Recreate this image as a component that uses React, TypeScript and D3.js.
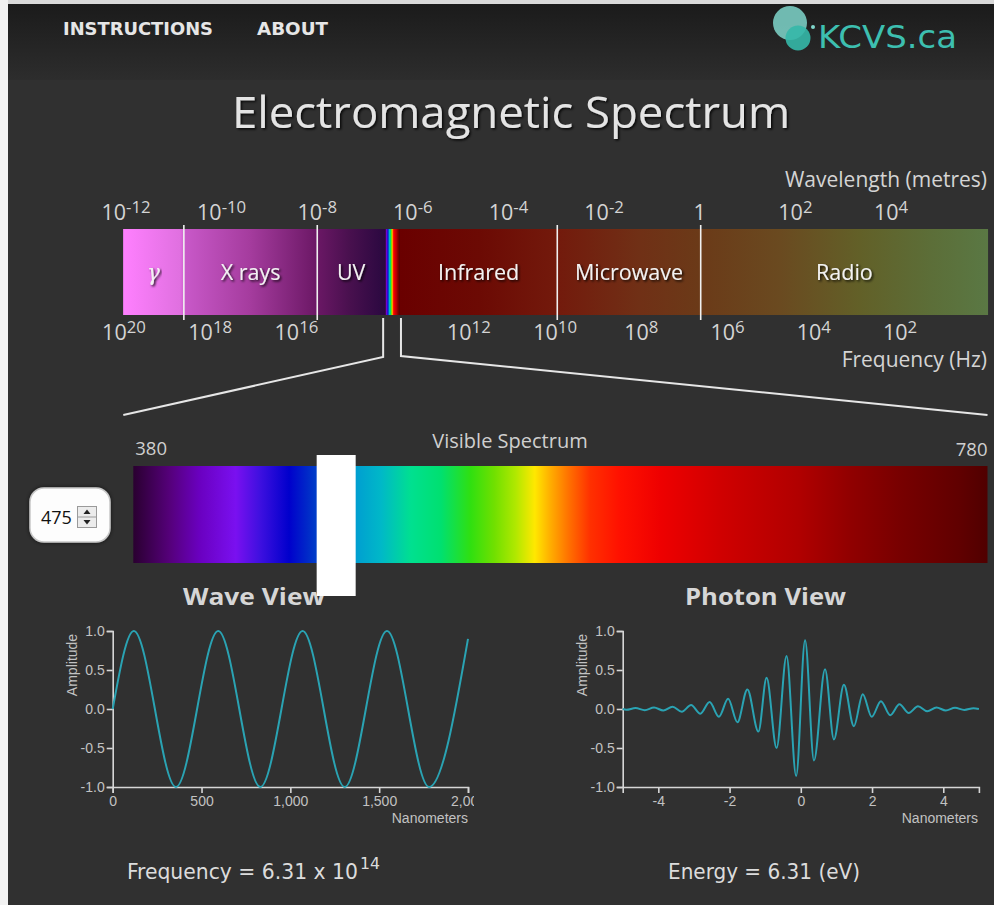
import React, { useEffect, useRef } from "react";
import * as d3 from "d3";

// ---------------- data ----------------
const NAV_ITEMS = ["INSTRUCTIONS", "ABOUT"];
const LOGO_TEXT = "KCVS.ca";
const TITLE = "Electromagnetic Spectrum";
const WAVELENGTH_TICK_EXPONENTS = [-12, -10, -8, -6, -4, -2, 0, 2, 4];
const FREQUENCY_TICK_EXPONENTS = [20, 18, 16, 12, 10, 8, 6, 4, 2];
const BAND_NAMES = ["γ", "X rays", "UV", "", "Infrared", "Microwave", "Radio"];
const BAND_EDGES_LOG_M = [-12.06, -10.79, -8.0, -6.58, -6.27, -2.98, 0.02, 6.03];
const VISIBLE_RANGE_NM = [380, 780];
const SELECTED_WAVELENGTH_NM = 475;
const FREQUENCY_MANTISSA = "6.31";
const FREQUENCY_EXPONENT = "14";
const ENERGY_EV = "6.31";

const WAVE_X_NM = [0, 119, 356, 594, 831, 1069, 1306, 1544, 1781, 2000];
const WAVE_AMPLITUDE = [0, 1, -1, 1, -1, 1, -1, 1, -1, 0.9];
const WAVE_X_TICKS = [0, 500, 1000, 1500, 2000];

const PHOTON_X_NM = [
  -5, -4.9, -4.64, -4.38, -4.12, -3.86, -3.6, -3.34, -3.08, -2.82, -2.56, -2.3, -2.04,
  -1.78, -1.5, -1.19, -0.96, -0.68, -0.4, -0.13, 0.12, 0.37, 0.68, 0.93, 1.21, 1.49,
  1.74, 1.99, 2.25, 2.51, 2.77, 3.03, 3.29, 3.55, 3.81, 4.07, 4.33, 4.59, 4.85, 5,
];
const PHOTON_AMPLITUDE = [
  0, -0.01, 0.012, -0.015, 0.02, -0.02, 0.03, -0.035, 0.05, -0.06, 0.09, -0.1, 0.13,
  -0.17, 0.25, -0.29, 0.4, -0.5, 0.68, -0.86, 0.88, -0.66, 0.51, -0.39, 0.31, -0.22,
  0.19, -0.1, 0.1, -0.08, 0.06, -0.05, 0.035, -0.03, 0.02, -0.02, 0.015, -0.012, 0.01, 0,
];
const PHOTON_X_TICKS = [-4, -2, 0, 2, 4];
const AMPLITUDE_TICKS = [-1, -0.5, 0, 0.5, 1];

// ---------------- styles (colour ramps) ----------------
const HIGH_ENERGY_STOPS: [number, string][] = [
  [-12.06, "#ff80ff"], [-10.87, "#e070e0"], [-10.75, "#c858c8"], [-9.41, "#a53c9e"],
  [-8.03, "#6c1866"], [-7.31, "#48104e"], [-6.58, "#2a0840"],
];
const LOW_ENERGY_STOPS: [number, string][] = [
  [-6.27, "#6a0000"], [-4.6, "#6c0a04"], [-2.98, "#731a0c"], [-1.25, "#703016"],
  [0.0, "#6b3a18"], [1.68, "#6a4a20"], [3.35, "#626028"], [4.82, "#5c6e38"], [6.03, "#5a7844"],
];
const VISIBLE_STOPS: [number, string][] = [
  [380, "#2a0030"], [397, "#55007a"], [411, "#6a00c0"], [428, "#7a10f0"], [439, "#4010e0"],
  [453, "#0000cc"], [463, "#0030c8"], [485, "#00a0d0"], [496, "#00b8c8"], [510, "#00e090"],
  [524, "#00e070"], [538, "#30e010"], [549, "#70e000"], [559, "#b0e800"], [568, "#ffe800"],
  [575, "#ffb000"], [584, "#ff7000"], [594, "#ff3000"], [608, "#ff1000"], [627, "#ee0000"],
  [655, "#d00000"], [692, "#b00000"], [716, "#900000"], [739, "#780000"], [767, "#600000"],
  [780, "#500000"],
];

const LABEL_FONT = "'Open Sans', 'Noto Sans', sans-serif";
const AXIS_FONT = "'Liberation Sans', Arial, sans-serif";
const NARROW_FONT = "'Liberation Sans Narrow', 'DejaVu Sans Condensed', 'Liberation Sans', sans-serif";
const LINE_COLOR = "#2aa3b3";

// ---------------- scales ----------------
const wlScale = d3.scaleLinear().domain([-12, 4]).range([126, 891]);
const freqScale = d3.scaleLinear().domain([20, 2]).range([124, 900]);
const visScale = d3.scaleLinear().domain(VISIBLE_RANGE_NM).range([133.3, 987.5]);
const ampScale = d3.scaleLinear().domain([-1, 1]).range([787, 631]);
const waveX = d3.scaleLinear().domain([0, 2000]).range([112.7, 468]);
const photonX = d3.scaleLinear().domain([-5, 5]).range([622.7, 978.9]);

const BAR_TOP = 229;
const BAR_BOTTOM = 315;

const hyphen = (f: (n: number) => string) => (d: d3.NumberValue) => f(+d).replace("\u2212", "-");

function stopsFor(stops: [number, string][], scale: (v: number) => number, x0: number, x1: number) {
  return stops.map(([v, c], i) => (
    <stop key={i} offset={`${((scale(v) - x0) / (x1 - x0)) * 100}%`} stopColor={c} />
  ));
}

function PowerLabel({ x, y, exp, size }: { x: number; y: number; exp: number; size: number }) {
  if (exp === 0) {
    return (
      <text x={x} y={y} textAnchor="middle" fontSize={size} fill="#d4d4d4" fontFamily={LABEL_FONT}>1</text>
    );
  }
  return (
    <text x={x} y={y} textAnchor="middle" fontSize={size} fill="#d4d4d4" fontFamily={LABEL_FONT}>
      10
      <tspan dy={-7} fontSize={size * 0.78}>{String(exp)}</tspan>
    </text>
  );
}

export default function App() {
  const waveXAxis = useRef<SVGGElement>(null);
  const waveYAxis = useRef<SVGGElement>(null);
  const photonXAxis = useRef<SVGGElement>(null);
  const photonYAxis = useRef<SVGGElement>(null);

  useEffect(() => {
    const styleAxis = (g: d3.Selection<SVGGElement, unknown, null, undefined>) => {
      g.selectAll("path, line").attr("stroke", "#d6d6d6").attr("stroke-width", 1.6);
      g.selectAll("text")
        .attr("fill", "#c2c2c2")
        .attr("font-size", 14)
        .attr("font-family", AXIS_FONT);
    };
    const yAxis = d3
      .axisLeft(ampScale)
      .tickValues(AMPLITUDE_TICKS)
      .tickFormat(hyphen(d3.format(".1f")))
      .tickSize(6)
      .tickPadding(2);
    [waveXAxis, waveYAxis, photonXAxis, photonYAxis].forEach((r) => d3.select(r.current!).selectAll("*").remove());
    d3.select(waveXAxis.current!)
      .call(d3.axisBottom(waveX).tickValues(WAVE_X_TICKS).tickFormat(hyphen(d3.format(","))).tickSize(6).tickPadding(3))
      .call(styleAxis);
    d3.select(waveYAxis.current!).call(yAxis).call(styleAxis);
    d3.select(photonXAxis.current!)
      .call(d3.axisBottom(photonX).tickValues(PHOTON_X_TICKS).tickFormat(hyphen(d3.format("d"))).tickSize(6).tickPadding(3))
      .call(styleAxis);
    d3.select(photonYAxis.current!).call(yAxis).call(styleAxis);
  }, []);

  const wavePath = d3
    .line<number>()
    .x((_, i) => waveX(WAVE_X_NM[i]))
    .y((d) => ampScale(d))
    .curve(d3.curveMonotoneX)(WAVE_AMPLITUDE) || "";
  const photonPath = d3
    .line<number>()
    .x((_, i) => photonX(PHOTON_X_NM[i]))
    .y((d) => ampScale(d))
    .curve(d3.curveMonotoneX)(PHOTON_AMPLITUDE) || "";

  const barLeft = wlScale(BAND_EDGES_LOG_M[0]);
  const barRight = wlScale(BAND_EDGES_LOG_M[7]);
  const visLeft = wlScale(BAND_EDGES_LOG_M[3]);
  const visRight = wlScale(BAND_EDGES_LOG_M[4]);
  const visBarLeft = visScale(VISIBLE_RANGE_NM[0]);
  const visBarRight = visScale(VISIBLE_RANGE_NM[1]);
  const sliderX = visScale(SELECTED_WAVELENGTH_NM);
  const miniVis = d3.scaleLinear().domain(VISIBLE_RANGE_NM).range([visLeft, visRight]);

  return (
    <>
      <style>{"body{margin:0;background:#fff;} #root{line-height:0}"}</style>
      <svg width={994} height={905} style={{ display: "block" }}>
        <defs>
          <linearGradient id="hdr" x1="0" y1="0" x2="0" y2="1">
            <stop offset="0%" stopColor="#1b1b1b" />
            <stop offset="100%" stopColor="#2d2d2d" />
          </linearGradient>
          <linearGradient id="highE" gradientUnits="userSpaceOnUse" x1={barLeft} x2={visLeft} y1={0} y2={0}>
            {stopsFor(HIGH_ENERGY_STOPS, wlScale, barLeft, visLeft)}
          </linearGradient>
          <linearGradient id="lowE" gradientUnits="userSpaceOnUse" x1={visRight} x2={barRight} y1={0} y2={0}>
            {stopsFor(LOW_ENERGY_STOPS, wlScale, visRight, barRight)}
          </linearGradient>
          <linearGradient id="visMini" gradientUnits="userSpaceOnUse" x1={visLeft} x2={visRight} y1={0} y2={0}>
            {stopsFor(VISIBLE_STOPS, miniVis, visLeft, visRight)}
          </linearGradient>
          <linearGradient id="visBig" gradientUnits="userSpaceOnUse" x1={visBarLeft} x2={visBarRight} y1={0} y2={0}>
            {stopsFor(VISIBLE_STOPS, visScale, visBarLeft, visBarRight)}
          </linearGradient>
          <filter id="tshadow" x="-10%" y="-30%" width="120%" height="160%">
            <feDropShadow dx="1.5" dy="1.5" stdDeviation="0.8" floodColor="#000" floodOpacity="0.85" />
          </filter>
          <filter id="boxshadow" x="-20%" y="-20%" width="140%" height="140%">
            <feDropShadow dx="0" dy="0" stdDeviation="2" floodColor="#000" floodOpacity="0.6" />
          </filter>
          <clipPath id="waveClip">
            <rect x={0} y={600} width={474} height={260} />
          </clipPath>
        </defs>

        {/* page frame & background */}
        <rect x={0} y={0} width={994} height={905} fill="#303030" />
        <rect x={0} y={4} width={994} height={76} fill="url(#hdr)" />
        <rect x={0} y={0} width={994} height={4} fill="#d9d9d9" />
        <rect x={0} y={0} width={8} height={905} fill="#f2f2f2" />

        {/* nav */}
        {NAV_ITEMS.map((t, i) => (
          <text
            key={t}
            x={i === 0 ? 63 : 257}
            y={35}
            fontFamily={NARROW_FONT}
            fontWeight="bold"
            fontSize={18}
            fill="#e6e6e6"
            textLength={i === 0 ? 150 : 71}
            lengthAdjust="spacingAndGlyphs"
          >
            {t}
          </text>
        ))}

        {/* logo */}
        <g>
          <circle cx={790} cy={23} r={17} fill="#7fd6cb" opacity={0.85} />
          <circle cx={798} cy={38} r={12.5} fill="#35b8a8" opacity={0.9} />
          <circle cx={813} cy={27} r={2} fill="#7fd6cb" />
          <text
            x={818}
            y={48}
            fontFamily={NARROW_FONT}
            fontSize={32}
            fill="#3dbfb0"
            textLength={139}
            lengthAdjust="spacingAndGlyphs"
          >
            {LOGO_TEXT}
          </text>
        </g>

        {/* title */}
        <text
          x={511}
          y={128}
          textAnchor="middle"
          fontFamily={LABEL_FONT}
          fontSize={44}
          fill="#e4e4e4"
          filter="url(#tshadow)"
          textLength={558}
          lengthAdjust="spacingAndGlyphs"
        >
          {TITLE}
        </text>

        {/* wavelength axis labels */}
        <text x={987} y={187} textAnchor="end" fontFamily={LABEL_FONT} fontSize={21} fill="#d4d4d4">
          Wavelength (metres)
        </text>
        {WAVELENGTH_TICK_EXPONENTS.map((e) => (
          <PowerLabel key={e} x={wlScale(e)} y={220} exp={e} size={21.5} />
        ))}

        {/* EM bar */}
        <rect x={barLeft} y={BAR_TOP} width={visLeft - barLeft} height={BAR_BOTTOM - BAR_TOP} fill="url(#highE)" />
        <rect x={visLeft} y={BAR_TOP} width={visRight - visLeft} height={BAR_BOTTOM - BAR_TOP} fill="url(#visMini)" />
        <rect x={visRight} y={BAR_TOP} width={barRight - visRight} height={BAR_BOTTOM - BAR_TOP} fill="url(#lowE)" />
        {[1, 2, 5, 6].map((i) => (
          <line
            key={i}
            x1={wlScale(BAND_EDGES_LOG_M[i])}
            x2={wlScale(BAND_EDGES_LOG_M[i])}
            y1={225}
            y2={320}
            stroke="#f0f0f0"
            strokeWidth={1.6}
          />
        ))}
        {BAND_NAMES.map((name, i) =>
          name ? (
            <text
              key={name}
              x={(wlScale(BAND_EDGES_LOG_M[i]) + wlScale(BAND_EDGES_LOG_M[i + 1])) / 2}
              y={280}
              textAnchor="middle"
              fontFamily={i === 0 ? "'DejaVu Serif', serif" : LABEL_FONT}
              fontStyle={i === 0 ? "italic" : "normal"}
              fontSize={21.5}
              fill="#f2f2f2"
              filter="url(#tshadow)"
            >
              {name}
            </text>
          ) : null
        )}

        {/* frequency labels */}
        {FREQUENCY_TICK_EXPONENTS.map((e) => (
          <PowerLabel key={e} x={freqScale(e)} y={340} exp={e} size={21.5} />
        ))}
        <text x={987} y={367} textAnchor="end" fontFamily={LABEL_FONT} fontSize={21} fill="#d4d4d4">
          Frequency (Hz)
        </text>

        {/* zoom lines */}
        <polyline
          points={`${visLeft - 2},${BAR_BOTTOM + 3} ${visLeft - 2},357 ${visBarLeft - 10},415`}
          fill="none"
          stroke="#e6e6e6"
          strokeWidth={2}
        />
        <polyline
          points={`${visRight + 1},${BAR_BOTTOM + 3} ${visRight + 1},356 ${visBarRight},415`}
          fill="none"
          stroke="#e6e6e6"
          strokeWidth={2}
        />

        {/* visible spectrum */}
        <text x={510} y={448} textAnchor="middle" fontFamily={LABEL_FONT} fontSize={20} fill="#cfcfcf">
          Visible Spectrum
        </text>
        <text x={visBarLeft + 2} y={455} fontFamily={LABEL_FONT} fontSize={18.5} fill="#cfcfcf">
          {VISIBLE_RANGE_NM[0]}
        </text>
        <text x={visBarRight} y={456} textAnchor="end" fontFamily={LABEL_FONT} fontSize={18.5} fill="#cfcfcf">
          {VISIBLE_RANGE_NM[1]}
        </text>
        <rect x={visBarLeft} y={466} width={visBarRight - visBarLeft} height={97} fill="url(#visBig)" />

        {/* wavelength input */}
        <rect x={30} y={488} width={80} height={54} rx={14} fill="#fdfdfd" stroke="#c8c8c8" strokeWidth={1.5} filter="url(#boxshadow)" />
        <text x={41} y={524} fontFamily={LABEL_FONT} fontSize={18} fill="#111">
          {SELECTED_WAVELENGTH_NM}
        </text>
        <rect x={77.5} y={506.5} width={19} height={21} fill="#ececec" stroke="#9a9a9a" strokeWidth={1} />
        <line x1={77.5} x2={96.5} y1={517} y2={517} stroke="#9a9a9a" />
        <path d="M87,509.5 L90.5,514 L83.5,514 Z" fill="#222" />
        <path d="M87,524.5 L90.5,520 L83.5,520 Z" fill="#222" />

        {/* view titles */}
        <text x={254} y={605} textAnchor="middle" fontFamily={LABEL_FONT} fontWeight="bold" fontSize={24} fill="#d6d6d6" textLength={142} lengthAdjust="spacingAndGlyphs">
          Wave View
        </text>
        <text x={765.5} y={605} textAnchor="middle" fontFamily={LABEL_FONT} fontWeight="bold" fontSize={24} fill="#d6d6d6" textLength={161} lengthAdjust="spacingAndGlyphs">
          Photon View
        </text>

        {/* slider */}
        <rect x={sliderX - 19.5} y={455} width={39} height={141} fill="#ffffff" />

        {/* wave view chart */}
        <g clipPath="url(#waveClip)">
          <g ref={waveXAxis} transform={`translate(0,${ampScale(-1)})`} />
          <g ref={waveYAxis} transform={`translate(${waveX(0)},0)`} />
          <path d={wavePath} fill="none" stroke={LINE_COLOR} strokeWidth={2} />
        </g>
        <text transform={`translate(77,665) rotate(-90)`} textAnchor="middle" fontFamily={AXIS_FONT} fontSize={14} fill="#c2c2c2">
          Amplitude
        </text>
        <text x={468} y={823} textAnchor="end" fontFamily={AXIS_FONT} fontSize={14} fill="#c2c2c2">
          Nanometers
        </text>

        {/* photon view chart */}
        <g ref={photonXAxis} transform={`translate(0,${ampScale(-1)})`} />
        <g ref={photonYAxis} transform={`translate(${photonX(-5)},0)`} />
        <path d={photonPath} fill="none" stroke={LINE_COLOR} strokeWidth={2} />
        <text transform={`translate(587,665) rotate(-90)`} textAnchor="middle" fontFamily={AXIS_FONT} fontSize={14} fill="#c2c2c2">
          Amplitude
        </text>
        <text x={978} y={823} textAnchor="end" fontFamily={AXIS_FONT} fontSize={14} fill="#c2c2c2">
          Nanometers
        </text>

        {/* readouts */}
        <text x={127} y={879} fontFamily={NARROW_FONT} fontSize={21} fill="#dcdcdc" textLength={231} lengthAdjust="spacingAndGlyphs">
          {`Frequency = ${FREQUENCY_MANTISSA} x 10`}
        </text>
        <text x={360} y={869} fontFamily={NARROW_FONT} fontSize={15} fill="#dcdcdc" textLength={20} lengthAdjust="spacingAndGlyphs">
          {FREQUENCY_EXPONENT}
        </text>
        <text x={668} y={879} fontFamily={NARROW_FONT} fontSize={21} fill="#dcdcdc" textLength={192} lengthAdjust="spacingAndGlyphs">
          {`Energy = ${ENERGY_EV} (eV)`}
        </text>
      </svg>
    </>
  );
}
